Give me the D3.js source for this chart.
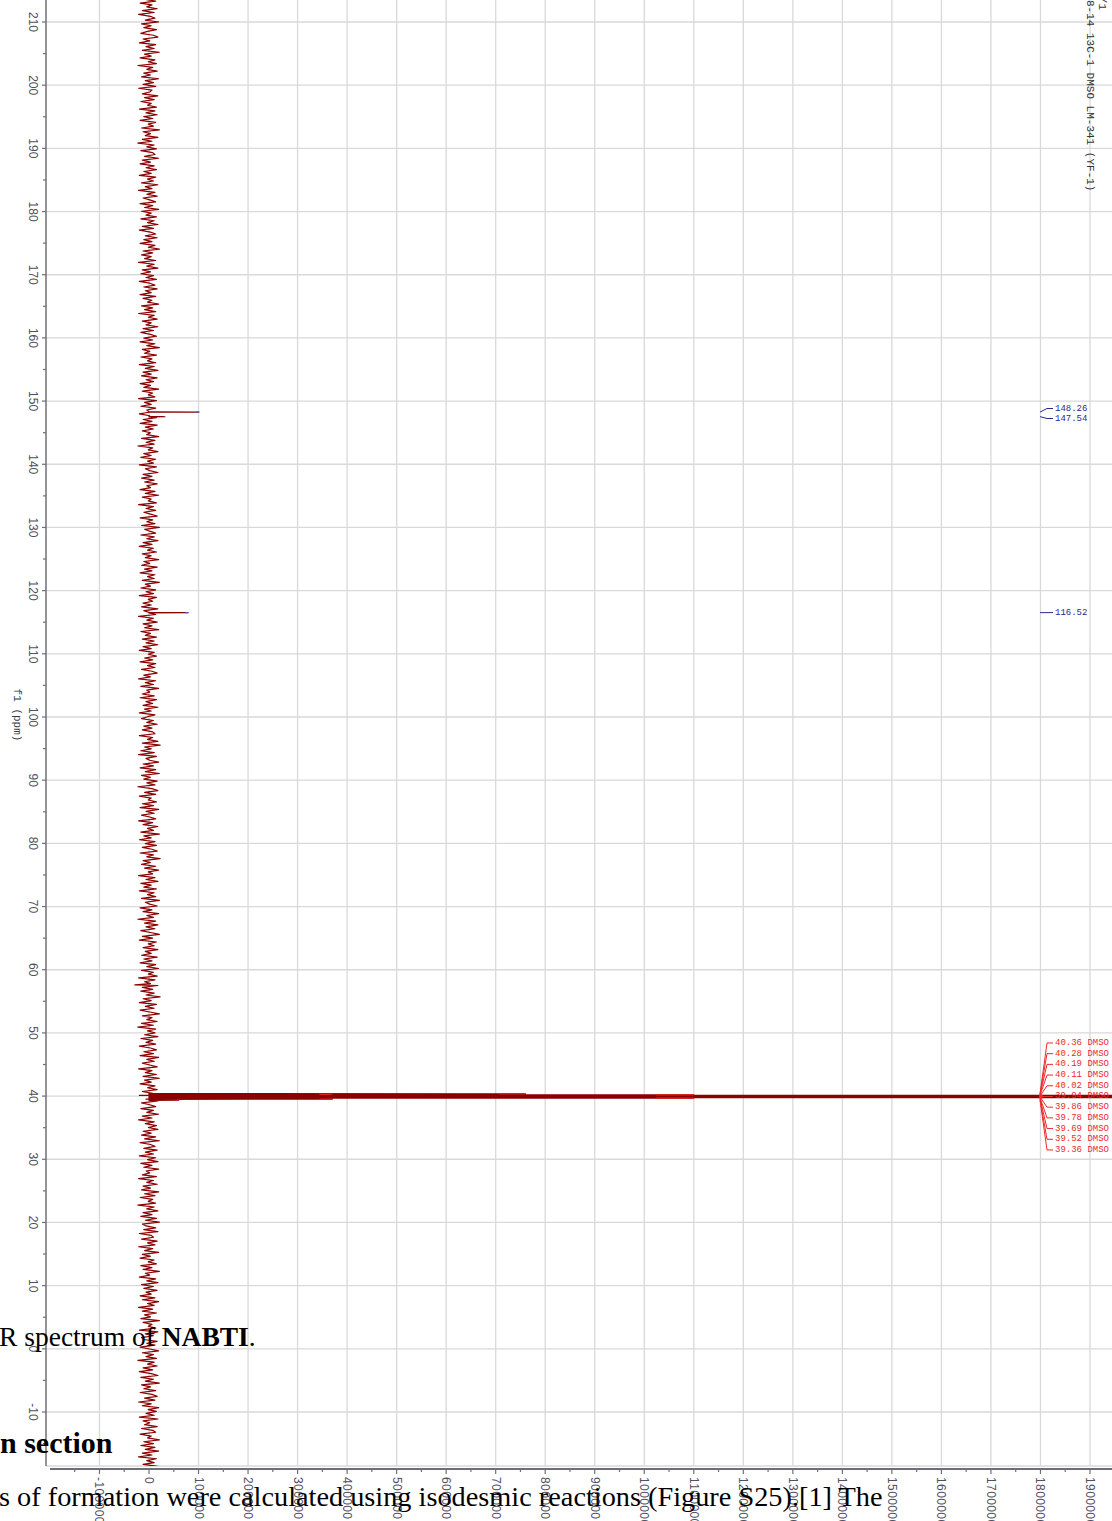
<!DOCTYPE html>
<html>
<head>
<meta charset="utf-8">
<script src="https://cdn.jsdelivr.net/npm/d3@7"></script>
<style>
  html, body { margin: 0; padding: 0; background: #fff; }
  svg { display: block; }
</style>
</head>
<body>
<svg id="chart" width="1112" height="1521"></svg>
<script>
// ---- chemical shift axis (ppm) ----
const ppmTicks = [210, 200, 190, 180, 170, 160, 150, 140, 130, 120, 110, 100, 90, 80, 70, 60, 50, 40, 30, 20, 10, 0, -10];
const ppmMinorTicks = [215, 205, 195, 185, 175, 165, 155, 145, 135, 125, 115, 105, 95, 85, 75, 65, 55, 45, 35, 25, 15, 5, -5, -15];

// ---- intensity axis ----
const intensityTicks = [-100000, 0, 100000, 200000, 300000, 400000, 500000, 600000, 700000, 800000, 900000,
  1000000, 1100000, 1200000, 1300000, 1400000, 1500000, 1600000, 1700000, 1800000, 1900000];
const intensityTickLabels = ["-100000", "0", "100000", "200000", "300000", "400000", "500000", "600000", "700000",
  "800000", "900000", "1000000", "1100000", "1200000", "1300000", "1400000", "1500000", "1600000", "1700000",
  "1800000", "1900000"];
const intensityMinorTicks = [-150000, -50000, 50000, 150000, 250000, 350000, 450000, 550000, 650000, 750000, 850000,
  950000, 1050000, 1150000, 1250000, 1350000, 1450000, 1550000, 1650000, 1750000, 1850000];

// ---- baseline noise, sampled evenly from 213.6 to -18.6 ppm, in units of 1500 counts ----
const noiseUnit = 1500;
const noiseStartPpm = 213.6;
const noiseEndPpm = -18.6;
const noise = [
  -6, 9, -12, 4, -3, 11, -9, 7, -14, 2, 8, -5, 13, -10, 3, -7, 10, -2, -11, 6,
  12, -8, 1, -13, 9, -4, 7, -9, 14, -6, 3, -12, 8, -1, 10, -15, 5, -3, 11, -7,
  2, -10, 13, -5, 6, -8, 9, -14, 4, 1, -9, 12, -6, 7, -11, 3, -2, 10, -13, 8,
  -4, 11, -7, 5, -12, 9, -1, 6, -10, 14, -8, 2, -5, 12, -9, 4, -15, 7, -3, 10,
  -11, 5, 8, -6, 13, -9, 2, -12, 7, -4, 10, -7, 3, -13, 9, -2, 6, -10, 12, -5,
  4, -14, 8, -3, 11, -8, 1, 9, -12, 5, -6, 13, -10, 3, -4, 10, -11, 7, -2, 12,
  -9, 6, -13, 2, 9, -5, 11, -7, 4, -12, 8, -1, 14, -8, 5, -10, 3, -6, 9, -14,
  7, -3, 12, -9, 2, -11, 6, -4, 10, -13, 1, 8, -7, 11, -5, 3, -12, 9, -8, 4,
  -2, 13, -10, 5, -6, 9, -14, 7, -1, 11, -9, 3, -4, 12, -8, 6, -11, 2, 10, -7,
  5, -12, 8, -3, 14, -9, 1, -6, 10, -11, 4, -2, 9, -13, 7, -5, 12, -8, 3, -10,
  11, -4, 6, -12, 2, -7, 13, -9, 5, -1, 8, -14, 10, -6, 3, -11, 9, -3, 7, -13,
  1, 10, -8, 4, -12, 11, -5, 6, -9, 2, -3, 13, -10, 8, -4, 7, -15, 5, -1, 12,
  -7, 3, -11, 9, -2, 6, -13, 10, -5, 1, 12, -8, 4, -10, 7, -6, 11, -3, 2, -12,
  8, -5, 13, -9, 3, -1, 10, -14, 6, -4, 9, -7, 2, 11, -12, 5, -3, 8, -10, 14,
  -6, 1, 9, -11, 7, -3, 12, -8, 4, -13, 6, -2, 10, -9, 3, -5, 13, -7, 1, -10,
  11, -6, 4, -12, 8, -2, 7, -9, 14, -5, 2, -11, 9, -4, 6, -13, 10, -1, 5, -8,
  3, -10, 12, -7, 1, 9, -14, 6, -3, 11, -8, 4, -6, 13, -11, 2, -5, 10, -9, 7,
  -4, 12, -8, 3, -13, 7, -1, 10, -6, 5, -12, 9, -2, 8, -10, 4, 11, -7, 2, -14,
  9, -5, 6, -11, 13, -3, 1, -9, 7, -12, 10, -4, 5, -8, 12, -6, 3, -13, 8, -2,
  -10, 6, -3, 11, -7, 4, -9, 5,
  8, -13, 5, -2, 12, -9, 15, -6, 3, -11, 7, -14, 10, -4, 1, 13, -8, 6, -12, 9,
  -5, 14, -10, 2, -7, 11, -3, 8, -15, 4, 12, -6, 9, -13, 3, -1, 10, -9, 6, -12,
  13, -4, 7, -10, 1, 9, -14, 5, -8, 12, -2, 6, -11, 14, -7, 3, -13, 8, -5, 10,
  -9, 4, 11, -12, 6, -3, 15, -8, 2, -10, 9, -6, 13, -1, 5, -14, 8, -4, 12, -11,
  3, -7, 10, -13, 7, -2, 9, -10, 14, -5, 1, 11, -12, 4, -8, 13, -3, 6, -15, 9,
  -6, 12, -4, 8, -11, 2, 14, -9, 5, -13, 10, -1, 7, -8, 12, -5, 3, -10, 11, -7,
  4, -12, 9, -3, 13, -10, 6, -1, 11, -14, 8, -6, 2, 12, -9, 5, -11, 7, -4, 15,
  -8, 3, -13, 10, -5, 7, -12, 1, 14, -9, 4, -3, 11, -10, 6, -15, 9, -2, 8, -6,
  12, -11, 5, -4, 9, -13, 2, 10, -7, 6, -12, 13, -3, 7, -9, 1, 11, -14, 4, -5,
  10, -8, 14, -6, 3, -12, 8, -2, 11, -9, 5, -13, 7, -4, 12, -10, 1, 9, -11, 6,
  -3, 13, -9, 4, -14, 7, -5, 10, -1, 12, -8, 3, -10, 9, -6, 14, -12, 2, 8, -7,
  11, -5, 6, -13, 9, -2, 12, -11, 4, -7, 13, -4, 1, -9, 10, -14, 6, -3, 11, -8,
  2, -10, 13, -6, 8, -12, 5, -1, 9, -15, 7, -3, 12, -8, 4, -11, 10, -5, 14, -9,
  -4, 9, -7, 12, -13, 3, 6, -10, 11, -2, 8, -14, 5, -6, 13, -9, 2, -12, 7, -1,
  10, -11, 4, -8, 14, -5, 1, -13, 9, -3, 12, -10, 6, -7, 11, -4, 3, -12, 8, -9,
  13, -2, 7, -14, 5, -9, 10, -6, 2, -11, 14, -8, 4, -1, 9, -13, 12, -5, 6, -10,
  -7, 11, -3, 8, -12, 1, 13, -9, 6, -4, 10, -15, 7, -2, 11, -8, 5, -13, 3, 12,
  -11, 6, -5, 14, -10, 2, -7, 9, -12, 4, 11, -6, 8, -14, 3, -9, 13, -1, 10, -4,
  7, -13, 12, -8, 1, -6, 11, -10, 5, 9, -12, 3, -2, 14, -7, 6, -11, 8, -5, 13,
  -9, 4, -14, 10, -3, 7, -8, 12
];

// one isolated negative excursion near 57.6 ppm (same units)
const noiseSpikePpm = 57.6;
const noiseSpikeValue = -19;

// ---- resolved resonances: shift (ppm) and height (counts) ----
const peakPpm    = [148.26, 147.54, 116.52, 40.36, 40.28, 40.19, 40.11, 40.02, 39.94, 39.86, 39.78, 39.69, 39.52, 39.36];
const peakHeight = [101000, 32000, 79000, 760000, 370000, 1100000, 2600000, 2700000, 2800000, 2700000, 2600000, 1100000, 370000, 60000];

// ---- peak annotations ----
const compoundLabels = ["148.26", "147.54", "116.52"];
const compoundLabelPpm = [148.26, 147.54, 116.52];
const solventLabels = ["40.36", "40.28", "40.19", "40.11", "40.02", "39.94", "39.86", "39.78", "39.69", "39.52", "39.36"];
const solventLabelPpm = [40.36, 40.28, 40.19, 40.11, 40.02, 39.94, 39.86, 39.78, 39.69, 39.52, 39.36];

const titleText = "8-14 13C-1 DMSO LM-341 (YF-1)";

// ---------------------------------------------------------------------
const W = 1112, H = 1521;
const plotTop = 0, plotBottom = 1466, plotLeft = 46, plotRight = W;
const svg = d3.select("#chart");

const y = d3.scaleLinear().domain([210, -10]).range([22, 1412]);          // ppm runs downward
const x = d3.scaleLinear().domain([0, 1900000]).range([149, 1090]);       // intensity runs rightward

const gridColor = "#d9d9d9";
const axisColor = "#6f6f78";
const tickTextColor = "#4f4f63";

// grid
const grid = svg.append("g");
grid.selectAll("line.h").data(ppmTicks).join("line")
  .attr("x1", plotLeft).attr("x2", plotRight)
  .attr("y1", d => y(d)).attr("y2", d => y(d))
  .attr("stroke", gridColor).attr("stroke-width", 1.3);
grid.selectAll("line.v").data(intensityTicks).join("line")
  .attr("x1", d => x(d)).attr("x2", d => x(d))
  .attr("y1", plotTop).attr("y2", plotBottom)
  .attr("stroke", gridColor).attr("stroke-width", 1.3);
grid.append("line")
  .attr("x1", plotLeft).attr("x2", plotRight).attr("y1", plotBottom).attr("y2", plotBottom)
  .attr("stroke", gridColor).attr("stroke-width", 1.3);

// ppm axis (left)
const yAxis = svg.append("g");
yAxis.append("line").attr("x1", plotLeft).attr("x2", plotLeft).attr("y1", 0).attr("y2", plotBottom)
  .attr("stroke", axisColor).attr("stroke-width", 1.5);
yAxis.selectAll("line.maj").data(ppmTicks).join("line")
  .attr("x1", plotLeft - 4).attr("x2", plotLeft)
  .attr("y1", d => y(d)).attr("y2", d => y(d))
  .attr("stroke", axisColor).attr("stroke-width", 1.2);
yAxis.selectAll("line.min").data(ppmMinorTicks.filter(d => y(d) >= 0 && y(d) <= plotBottom)).join("line")
  .attr("x1", plotLeft - 3).attr("x2", plotLeft)
  .attr("y1", d => y(d)).attr("y2", d => y(d))
  .attr("stroke", axisColor).attr("stroke-width", 1.2);
yAxis.selectAll("text").data(ppmTicks).join("text")
  .attr("transform", d => `translate(33,${y(d)}) rotate(90)`)
  .attr("text-anchor", "middle").attr("dominant-baseline", "central")
  .attr("font-family", "Liberation Sans, Arial, sans-serif").attr("font-size", 12)
  .attr("fill", tickTextColor)
  .text(d => d);
svg.append("text")
  .attr("transform", `translate(17,715) rotate(90)`)
  .attr("text-anchor", "middle").attr("dominant-baseline", "central")
  .attr("font-family", "Liberation Mono, monospace").attr("font-size", 11)
  .attr("fill", "#3a3a48")
  .text("f1 (ppm)");

// intensity axis (bottom)
const axisY = 1469;
const xAxis = svg.append("g");
xAxis.append("line").attr("x1", 50).attr("x2", W).attr("y1", axisY).attr("y2", axisY)
  .attr("stroke", axisColor).attr("stroke-width", 1.8);
xAxis.selectAll("line.maj").data(intensityTicks).join("line")
  .attr("x1", d => x(d)).attr("x2", d => x(d))
  .attr("y1", axisY).attr("y2", axisY + 5)
  .attr("stroke", axisColor).attr("stroke-width", 1.2);
xAxis.selectAll("line.min").data(intensityMinorTicks.filter(d => x(d) >= 50)).join("line")
  .attr("x1", d => x(d)).attr("x2", d => x(d))
  .attr("y1", axisY).attr("y2", axisY + 3)
  .attr("stroke", axisColor).attr("stroke-width", 1.2);
xAxis.selectAll("text").data(intensityTicks).join("text")
  .attr("transform", d => `translate(${x(d)},${axisY + 8}) rotate(90)`)
  .attr("text-anchor", "start").attr("dominant-baseline", "central")
  .attr("font-family", "Liberation Sans, Arial, sans-serif").attr("font-size", 12)
  .attr("letter-spacing", 0.4)
  .attr("fill", tickTextColor)
  .text((d, i) => intensityTickLabels[i]);

// spectrum trace: noise samples + isolated spike + sharp resonances, merged in shift order
const noiseIndex = d3.scaleLinear().domain([0, noise.length - 1]).range([noiseStartPpm, noiseEndPpm]);
const trace = noise.map((v, i) => ({ ppm: noiseIndex(i), v: v * noiseUnit }));
trace.push({ ppm: noiseSpikePpm, v: noiseSpikeValue * noiseUnit });
peakPpm.forEach((p, i) => {
  trace.push({ ppm: p + 0.03, v: 0 }, { ppm: p, v: peakHeight[i] }, { ppm: p - 0.03, v: 0 });
});
trace.sort((a, b) => b.ppm - a.ppm);

svg.append("clipPath").attr("id", "plotClip")
  .append("rect").attr("x", 50).attr("y", 0).attr("width", W - 50).attr("height", plotBottom);

const line = d3.line().x(d => x(d.v)).y(d => y(d.ppm));
svg.append("path")
  .datum(trace)
  .attr("clip-path", "url(#plotClip)")
  .attr("d", line)
  .attr("fill", "none")
  .attr("stroke", "#8b0000")
  .attr("stroke-width", 1.2)
  .attr("stroke-linejoin", "round");

// coloured tips on picked peaks
const tipData = peakPpm.map((p, i) => ({ ppm: p, h: peakHeight[i], c: p > 100 ? "#5b5bd6" : "#e02020" }))
  .filter(d => d.ppm > 100 || d.h < 1900000);
svg.append("g").attr("clip-path", "url(#plotClip)")
  .selectAll("line").data(tipData).join("line")
  .attr("x1", d => x(d.h * 0.93)).attr("x2", d => x(d.h))
  .attr("y1", d => y(d.ppm)).attr("y2", d => y(d.ppm))
  .attr("stroke", d => d.c).attr("stroke-width", 1.3);

// peak labels
const labelX = 1055;
function drawLabels(labels, ppms, labelYs, color, suffix) {
  const g = svg.append("g");
  labels.forEach((t, i) => {
    const py = y(ppms[i]);
    const ly = labelYs[i];
    g.append("path")
      .attr("d", `M1040,${py} L1047,${ly} L1053,${ly}`)
      .attr("fill", "none").attr("stroke", color).attr("stroke-width", 1);
    g.append("text")
      .attr("x", labelX).attr("y", ly)
      .attr("dominant-baseline", "central")
      .attr("font-family", "Liberation Mono, monospace").attr("font-size", 9)
      .attr("fill", color)
      .text(t + suffix);
  });
  return g;
}
drawLabels(compoundLabels.slice(0, 2), compoundLabelPpm.slice(0, 2), [408.5, 418.5], "#2b2b8c", "");
drawLabels(compoundLabels.slice(2), compoundLabelPpm.slice(2), [y(116.52)], "#2b2b8c", "");
const solventCenter = y(39.94);
const solventYs = solventLabels.map((d, i) => solventCenter + (i - 5) * 10.7);
drawLabels(solventLabels, solventLabelPpm, solventYs, "#ee2a2a", " DMSO");
svg.append("circle").attr("cx", 1041).attr("cy", y(39.94)).attr("r", 2.2).attr("fill", "#ee2a2a");

// experiment title
svg.append("text")
  .attr("transform", `translate(1090,0) rotate(90)`)
  .attr("text-anchor", "start").attr("dominant-baseline", "central")
  .attr("font-family", "Liberation Mono, monospace").attr("font-size", 11)
  .attr("fill", "#333")
  .text(titleText);
svg.append("text")
  .attr("transform", `translate(1102,10) rotate(90)`)
  .attr("text-anchor", "end").attr("dominant-baseline", "central")
  .attr("font-family", "Liberation Mono, monospace").attr("font-size", 11)
  .attr("fill", "#333")
  .text("/1");

// surrounding document text
const serif = "Liberation Serif, Times New Roman, serif";
const cap = svg.append("text").attr("x", -1).attr("y", 1346)
  .attr("font-family", serif).attr("font-size", 27.5).attr("fill", "#000");
cap.append("tspan").text("R spectrum of ");
cap.append("tspan").attr("font-weight", "bold").text("NABTI");
cap.append("tspan").text(".");

svg.append("text").attr("x", 0).attr("y", 1453)
  .attr("font-family", serif).attr("font-size", 30).attr("font-weight", "bold").attr("fill", "#000")
  .text("n section");

svg.append("text").attr("x", -1).attr("y", 1506)
  .attr("font-family", serif).attr("font-size", 28.3).attr("fill", "#000")
  .text("s of formation were calculated using isodesmic reactions (Figure S25).[1] The");
</script>
</body>
</html>
